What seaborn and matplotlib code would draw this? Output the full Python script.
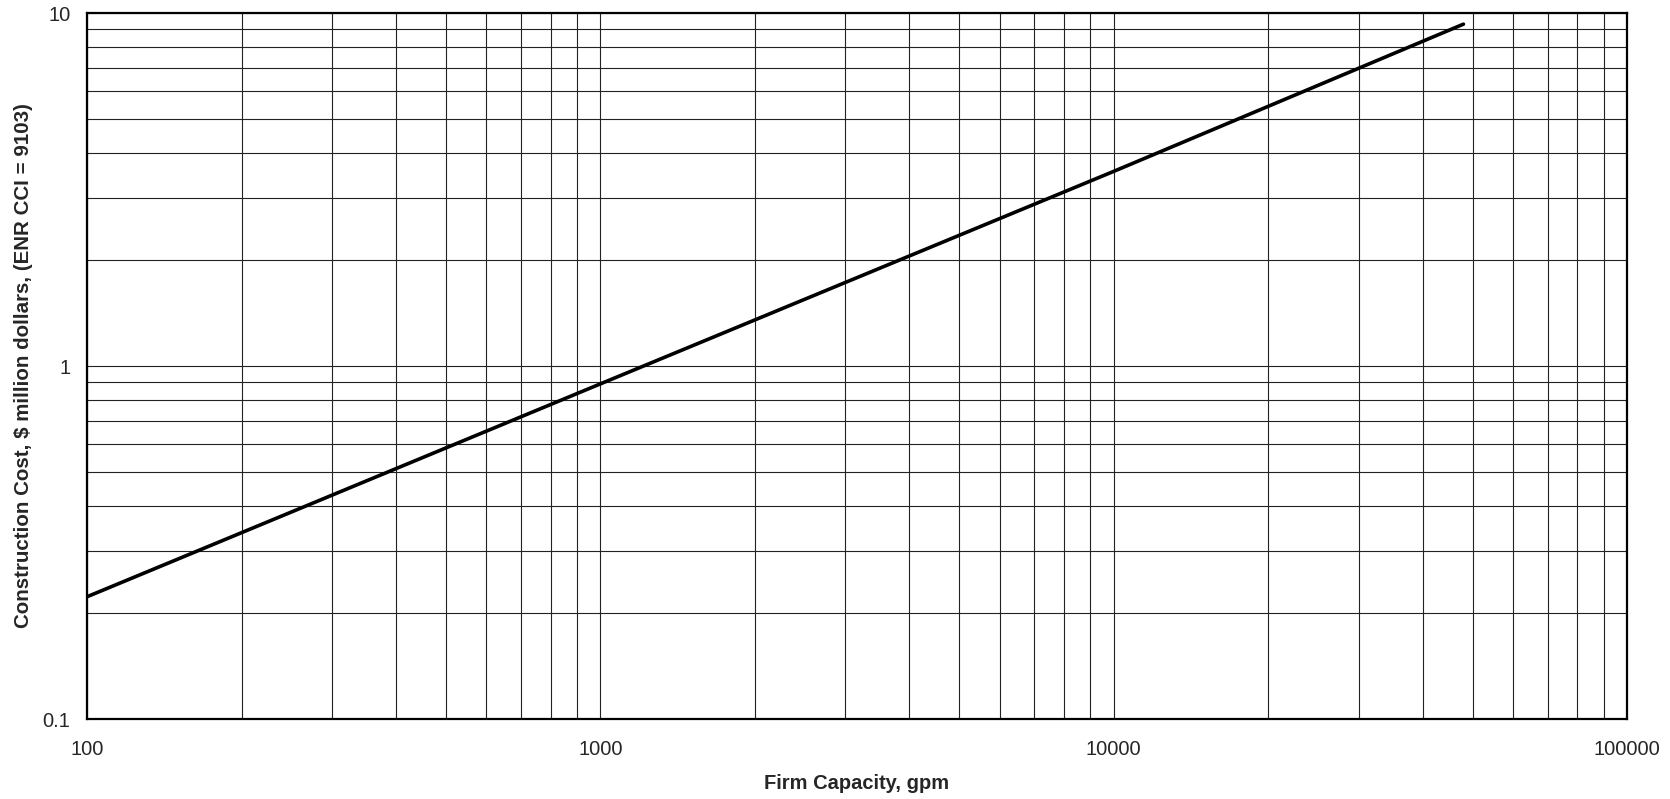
import numpy as np
import pandas as pd
import matplotlib
matplotlib.use("Agg")
import matplotlib.pyplot as plt
from matplotlib.ticker import FixedLocator, LogLocator, NullFormatter
import seaborn as sns

# =========================
# DATA
# =========================
capacity_gpm = [100, 1000, 10000, 48000]
cost_million = [0.222, 0.89, 3.56, 9.3]

x_ticks = [100, 1000, 10000, 100000]
x_tick_labels = ["100", "1000", "10000", "100000"]
y_ticks = [0.1, 1, 10]
y_tick_labels = ["0.1", "1", "10"]

df = pd.DataFrame({
    "capacity": capacity_gpm,
    "cost": cost_million
})

# =========================
# STYLE
# =========================
sns.set_style("white")
plt.rcParams["font.family"] = ["Liberation Sans", "DejaVu Sans"]

fig = plt.figure(figsize=(16.7, 7.99), dpi=100)
ax = fig.add_axes([0.0521, 0.1001, 0.9222, 0.8836])

sns.lineplot(
    data=df,
    x="capacity",
    y="cost",
    color="black",
    linewidth=2.6,
    ax=ax
)

ax.set_xscale("log")
ax.set_yscale("log")
ax.set_xlim(100, 100000)
ax.set_ylim(0.1, 10)

# =========================
# TICKS AND GRID
# =========================
ax.xaxis.set_major_locator(FixedLocator(x_ticks))
ax.set_xticklabels(x_tick_labels)
ax.yaxis.set_major_locator(FixedLocator(y_ticks))
ax.set_yticklabels(y_tick_labels)

ax.xaxis.set_minor_locator(LogLocator(base=10, subs=np.arange(2, 10)))
ax.yaxis.set_minor_locator(LogLocator(base=10, subs=np.arange(2, 10)))
ax.xaxis.set_minor_formatter(NullFormatter())
ax.yaxis.set_minor_formatter(NullFormatter())

ax.grid(which="both", color="#222222", linewidth=0.8)
ax.set_axisbelow(True)

ax.tick_params(axis="both", which="major", direction="out",
               length=5, width=1, color="black", labelsize=14.5)
ax.tick_params(axis="x", which="major", pad=10)
ax.tick_params(axis="y", which="major", pad=7)
ax.tick_params(axis="both", which="minor", length=0)

for spine in ax.spines.values():
    spine.set_visible(True)
    spine.set_color("black")
    spine.set_linewidth(1.6)

# =========================
# LABELS
# =========================
ax.set_xlabel("Firm Capacity, gpm", fontsize=14.5, fontweight="bold")
ax.set_ylabel("Construction Cost, $ million dollars, (ENR CCI = 9103)",
              fontsize=14.8, fontweight="bold")
ax.xaxis.set_label_coords(0.5, -0.078)
ax.yaxis.set_label_coords(-0.035, 0.5)

fig.savefig("out.png", dpi=100)
plt.close(fig)
